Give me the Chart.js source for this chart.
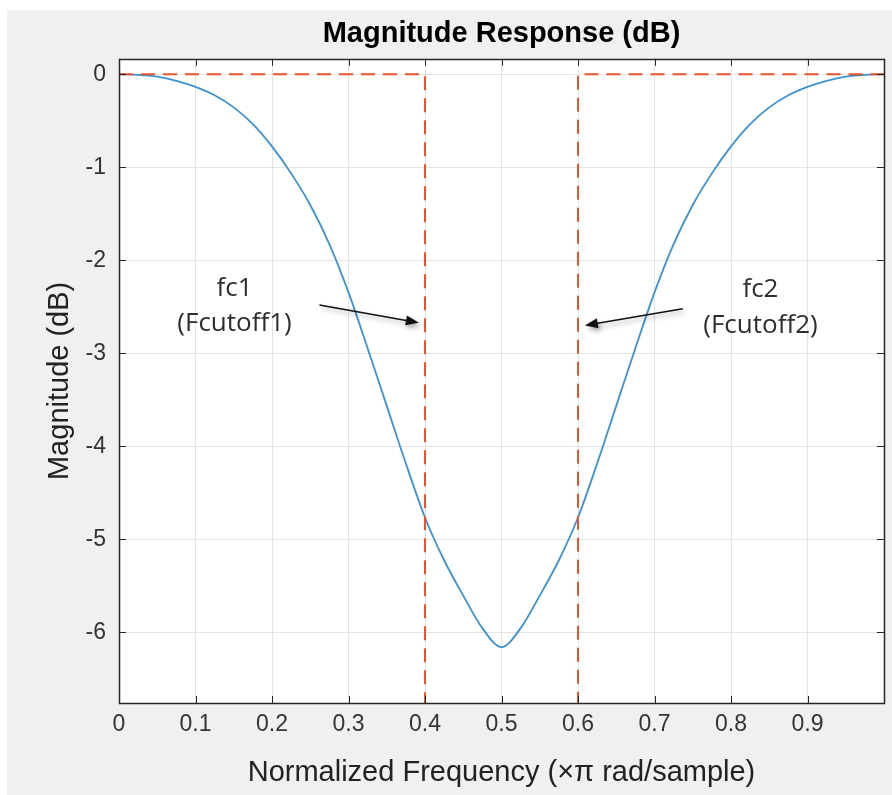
<!DOCTYPE html>
<html>
<head>
<meta charset="utf-8">
<script src="https://cdn.jsdelivr.net/npm/chart.js@4.4.1/dist/chart.umd.min.js"></script>
<style>
  html, body { margin: 0; padding: 0; background: #ffffff; }
  #wrap { width: 892px; height: 795px; }
</style>
</head>
<body>
<div id="wrap"><canvas id="myChart" width="892" height="795"></canvas></div>
<script>
// normalized frequency (x pi rad/sample) and magnitude (dB)
let freq = [0, 0.025, 0.05, 0.075, 0.1, 0.125, 0.15, 0.175, 0.2, 0.225, 0.25, 0.275, 0.3, 0.325, 0.35, 0.375, 0.4, 0.425, 0.45, 0.475, 0.5,
            0.525, 0.55, 0.575, 0.6, 0.625, 0.65, 0.675, 0.7, 0.725, 0.75, 0.775, 0.8, 0.825, 0.85, 0.875, 0.9, 0.925, 0.95, 0.975, 1];
let magDb = [0, -0.005, -0.025, -0.07, -0.135, -0.225, -0.355, -0.535, -0.775, -1.065, -1.405, -1.825, -2.345, -2.945, -3.565, -4.185, -4.765, -5.225, -5.605, -5.955, -6.16,
             -5.955, -5.605, -5.225, -4.765, -4.185, -3.565, -2.945, -2.345, -1.825, -1.405, -1.065, -0.775, -0.535, -0.355, -0.225, -0.135, -0.07, -0.025, -0.005, 0];

// ideal band-stop edges (red dashed)
let idealLeftX = [0, 0.4, 0.4];
let idealLeftY = [0, 0, -7.5];
let idealRightX = [0.6, 0.6, 1];
let idealRightY = [-7.5, 0, 0];

let xTicks = [0, 0.1, 0.2, 0.3, 0.4, 0.5, 0.6, 0.7, 0.8, 0.9];
let yTicks = [0, -1, -2, -3, -4, -5, -6];

// annotations: text and arrows (data coordinates)
let noteLines = [['fc1', '(Fcutoff1)'], ['fc2', '(Fcutoff2)']];
let noteX = [0.151, 0.8385];
let noteY = [[-2.30, -2.68], [-2.31, -2.70]];
let arrowFrom = [[0.262, -2.48], [0.737, -2.52]];
let arrowTo = [[0.392, -2.67], [0.609, -2.70]];

const pts = (xs, ys) => xs.map((v, i) => ({ x: v, y: ys[i] }));

const boxPlugin = {
    id: 'boxPlugin',
    beforeDraw(chart) {
        const c = chart.ctx, a = chart.chartArea;
        c.save();
        c.fillStyle = '#ffffff';
        c.fillRect(0, 0, chart.width, chart.height);
        c.fillStyle = '#f0f0f0';
        c.fillRect(7, 10, chart.width - 7, chart.height - 10);
        c.fillStyle = '#ffffff';
        c.fillRect(a.left, a.top, a.right - a.left, a.bottom - a.top);
        c.restore();
    },
    afterDatasetsDraw(chart) {
        const c = chart.ctx;
        const xs = chart.scales.x, ys = chart.scales.y;
        c.save();
        // labels
        c.fillStyle = '#2e2e2e';
        c.font = '26px "Open Sans"';
        c.textAlign = 'center';
        c.textBaseline = 'middle';
        noteLines.forEach((lines, i) => {
            lines.forEach((t, j) => {
                c.fillText(t, xs.getPixelForValue(noteX[i]), ys.getPixelForValue(noteY[i][j]));
            });
        });
        // arrows
        arrowFrom.forEach((f, i) => {
            const x0 = xs.getPixelForValue(f[0]), y0 = ys.getPixelForValue(f[1]);
            const x1 = xs.getPixelForValue(arrowTo[i][0]), y1 = ys.getPixelForValue(arrowTo[i][1]);
            const ang = Math.atan2(y1 - y0, x1 - x0);
            c.save();
            c.shadowColor = 'rgba(0,0,0,0.35)';
            c.shadowBlur = 5;
            c.shadowOffsetX = 2;
            c.shadowOffsetY = 3;
            c.strokeStyle = '#111111';
            c.fillStyle = '#111111';
            c.lineWidth = 1.5;
            c.beginPath();
            c.moveTo(x0, y0);
            c.lineTo(x1 - 10 * Math.cos(ang), y1 - 10 * Math.sin(ang));
            c.stroke();
            c.beginPath();
            c.moveTo(x1, y1);
            c.lineTo(x1 - 13 * Math.cos(ang) + 5 * Math.sin(ang), y1 - 13 * Math.sin(ang) - 5 * Math.cos(ang));
            c.lineTo(x1 - 13 * Math.cos(ang) - 5 * Math.sin(ang), y1 - 13 * Math.sin(ang) + 5 * Math.cos(ang));
            c.closePath();
            c.fill();
            c.restore();
        });
        c.restore();
    },
    afterDraw(chart) {
        const c = chart.ctx, a = chart.chartArea;
        const xs = chart.scales.x, ys = chart.scales.y;
        c.save();
        c.strokeStyle = '#262626';
        c.lineWidth = 1;
        c.beginPath();
        xs.ticks.forEach(t => {
            const px = Math.round(xs.getPixelForValue(t.value)) + 0.5;
            c.moveTo(px, a.bottom); c.lineTo(px, a.bottom - 7);
            c.moveTo(px, a.top); c.lineTo(px, a.top + 7);
        });
        ys.ticks.forEach(t => {
            const py = Math.round(ys.getPixelForValue(t.value)) + 0.5;
            c.moveTo(a.left, py); c.lineTo(a.left + 7, py);
            c.moveTo(a.right, py); c.lineTo(a.right - 7, py);
        });
        c.stroke();
        c.lineWidth = 1.5;
        c.strokeRect(Math.round(a.left) + 0.5, Math.round(a.top) + 0.5, Math.round(a.right - a.left), Math.round(a.bottom - a.top));
        c.restore();
    }
};

const ctx = document.getElementById('myChart');

new Chart(ctx, {
    type: 'line',
    data: {
        datasets: [
            {
                label: 'ideal low',
                data: pts(idealLeftX, idealLeftY),
                borderColor: '#e8542e',
                borderWidth: 2,
                borderDash: [14, 8],
                pointRadius: 0,
                tension: 0
            },
            {
                label: 'ideal high',
                data: pts(idealRightX, idealRightY),
                borderColor: '#e8542e',
                borderWidth: 2,
                borderDash: [14, 8],
                pointRadius: 0,
                tension: 0
            },
            {
                label: 'Magnitude',
                data: pts(freq, magDb),
                borderColor: '#3a92d2',
                borderWidth: 1.8,
                pointRadius: 0,
                cubicInterpolationMode: 'monotone'
            }
        ]
    },
    options: {
        responsive: false,
        animation: false,
        layout: { padding: { left: 0, right: -1, top: 0, bottom: 0 } },
        plugins: {
            legend: { display: false },
            tooltip: { enabled: false },
            title: {
                display: true,
                fullSize: false,
                text: 'Magnitude Response (dB)',
                color: '#000000',
                font: { family: '"Liberation Sans", Arial, sans-serif', size: 29, weight: 'bold', lineHeight: 1.2 },
                padding: { top: 17, bottom: 7 }
            }
        },
        scales: {
            x: {
                type: 'linear',
                min: 0,
                max: 1,
                afterFit: s => { s.height = 92; },
                afterBuildTicks: s => { s.ticks = xTicks.concat([1]).map(v => ({ value: v })); },
                ticks: {
                    color: '#333333',
                    padding: 8,
                    maxRotation: 0,
                    font: { family: '"Liberation Sans", Arial, sans-serif', size: 23 },
                    callback: v => (xTicks.indexOf(Math.round(v * 10) / 10) >= 0 ? String(Math.round(v * 10) / 10) : '')
                },
                grid: { color: '#e3e3e3', drawTicks: false },
                border: { display: false },
                title: {
                    display: true,
                    text: 'Normalized Frequency (\u00d7\u03c0 rad/sample)',
                    color: '#222222',
                    font: { family: '"Liberation Sans", Arial, sans-serif', size: 29, lineHeight: 1.2 },
                    padding: { top: 0, bottom: 5 }
                }
            },
            y: {
                type: 'linear',
                min: -6.76,
                max: 0.167,
                afterFit: s => { s.width = 119; },
                afterBuildTicks: s => { s.ticks = yTicks.map(v => ({ value: v })); },
                ticks: {
                    color: '#333333',
                    padding: 13,
                    font: { family: '"Liberation Sans", Arial, sans-serif', size: 23 },
                    callback: v => String(v)
                },
                grid: { color: '#e3e3e3', drawTicks: false },
                border: { display: false },
                title: {
                    display: true,
                    text: 'Magnitude (dB)',
                    color: '#222222',
                    font: { family: '"Liberation Sans", Arial, sans-serif', size: 29, lineHeight: 1.2 },
                    padding: { top: 43, bottom: 0 }
                }
            }
        }
    },
    plugins: [boxPlugin]
});
</script>
</body>
</html>
